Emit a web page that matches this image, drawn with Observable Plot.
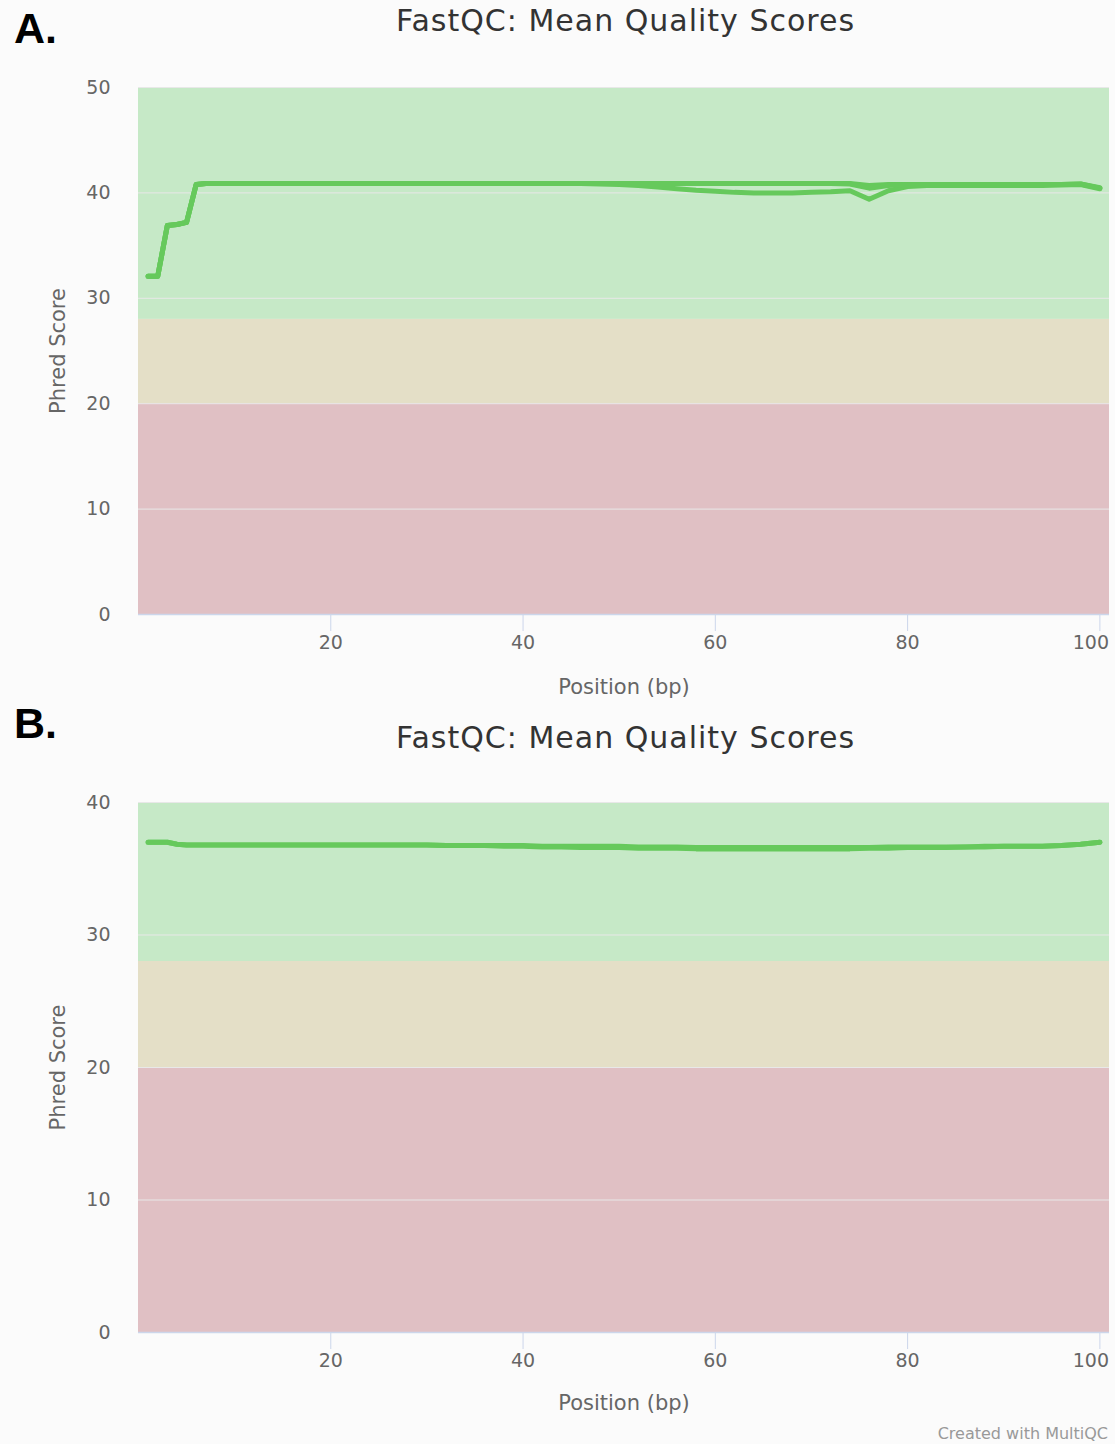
<!DOCTYPE html>
<html>
<head>
<meta charset="utf-8">
<script src="https://cdn.jsdelivr.net/npm/d3@7"></script>
<script src="https://cdn.jsdelivr.net/npm/@observablehq/plot@0.6"></script>
<style>
  html, body { margin: 0; padding: 0; background: #fbfbfb; }
  #page { position: relative; width: 1115px; height: 1444px; overflow: hidden; background: #fbfbfb; font-family: "DejaVu Sans", sans-serif; }
  .panel { position: absolute; left: 14px; font-family: "Liberation Sans", Arial, sans-serif; font-weight: bold; font-size: 43px; line-height: 43px; color: #000; }
  .title { position: absolute; left: 140px; width: 971px; text-align: center; font-size: 30px; line-height: 30px; letter-spacing: 1px; color: #333; white-space: nowrap; }
  .credit { position: absolute; right: 7px; font-size: 16px; line-height: 16px; color: #999; }
  #page svg { position: absolute; left: 0; }
  #page svg g[aria-label="x-axis label"], #page svg g[aria-label="y-axis label"] { font-size: 21px !important; }
</style>
</head>
<body>
<div id="page">
  <div class="panel" style="top:7px">A.</div>
  <div class="title" style="top:6px">FastQC: Mean Quality Scores</div>
  <div class="panel" style="top:702px">B.</div>
  <div class="title" style="top:723px">FastQC: Mean Quality Scores</div>
  <div class="credit" style="top:1426px">Created with MultiQC</div>
</div>
<script>
// ---- data ----
const positions = [1,2,3,4,5,6,7,8,9,10,12,14,16,18,20,22,24,26,28,30,32,34,36,38,40,42,44,46,48,50,52,54,56,58,60,62,64,66,68,70,72,74,76,78,80,82,84,86,88,90,92,94,96,98,100];

const sampleA1 = [32.1,32.1,36.9,37.0,37.2,40.8,40.9,40.9,40.9,40.9,40.9,40.9,40.9,40.9,40.9,40.9,40.9,40.9,40.9,40.9,40.9,40.9,40.9,40.9,40.9,40.9,40.9,40.9,40.9,40.9,40.9,40.9,40.9,40.9,40.9,40.9,40.9,40.9,40.9,40.9,40.9,40.9,40.7,40.8,40.8,40.8,40.8,40.8,40.8,40.8,40.8,40.8,40.8,40.85,40.45];
const sampleA2 = [32.1,32.1,36.9,37.0,37.2,40.8,40.9,40.9,40.9,40.9,40.9,40.9,40.9,40.9,40.9,40.9,40.9,40.9,40.9,40.9,40.9,40.9,40.9,40.9,40.9,40.9,40.9,40.9,40.85,40.8,40.7,40.55,40.4,40.25,40.15,40.05,40.0,40.0,40.0,40.05,40.1,40.2,39.4,40.2,40.6,40.7,40.7,40.7,40.7,40.7,40.7,40.7,40.75,40.8,40.4];
const sampleA3 = [32.1,32.1,36.9,37.0,37.2,40.8,40.9,40.9,40.9,40.9,40.9,40.9,40.9,40.9,40.9,40.9,40.9,40.9,40.9,40.9,40.9,40.9,40.9,40.9,40.9,40.9,40.9,40.9,40.9,40.9,40.9,40.9,40.9,40.9,40.9,40.9,40.9,40.9,40.9,40.9,40.9,40.85,40.45,40.7,40.8,40.8,40.8,40.8,40.8,40.8,40.8,40.8,40.8,40.85,40.5];

const sampleB1 = [37.0,37.0,37.0,36.85,36.8,36.8,36.8,36.8,36.8,36.8,36.8,36.8,36.8,36.8,36.8,36.8,36.8,36.8,36.8,36.8,36.75,36.75,36.75,36.75,36.75,36.7,36.7,36.7,36.7,36.7,36.65,36.65,36.65,36.6,36.6,36.6,36.6,36.6,36.6,36.6,36.6,36.6,36.6,36.65,36.65,36.65,36.65,36.65,36.7,36.7,36.7,36.7,36.75,36.85,37.0];
const sampleB2 = [37.0,37.0,37.0,36.85,36.8,36.8,36.8,36.8,36.8,36.8,36.8,36.8,36.8,36.8,36.8,36.8,36.8,36.8,36.8,36.8,36.75,36.75,36.75,36.7,36.7,36.65,36.65,36.6,36.6,36.6,36.55,36.55,36.55,36.5,36.5,36.5,36.5,36.5,36.5,36.5,36.5,36.5,36.55,36.55,36.6,36.6,36.6,36.65,36.65,36.7,36.7,36.7,36.75,36.85,37.0];

const xTicks = [20, 40, 60, 80, 100];
const yTicksA = [0, 10, 20, 30, 40, 50];
const yTicksB = [0, 10, 20, 30, 40];
const bandNames = ["fail", "warn", "pass"];
const bandLow = [0, 20, 28];
const bandHighA = [20, 28, 50];
const bandHighB = [20, 28, 40];

// ---- build tables ----
function toRows(samples) {
  const rows = [];
  for (const [name, vals] of samples) {
    positions.forEach((p, i) => rows.push({sample: name, pos: p, q: vals[i]}));
  }
  return rows;
}
const rowsA = toRows([["A1", sampleA1], ["A2", sampleA2], ["A3", sampleA3]]);
const rowsB = toRows([["B1", sampleB1], ["B2", sampleB2]]);
const bandsA = bandNames.map((n, i) => ({band: n, lo: bandLow[i], hi: bandHighA[i]}));
const bandsB = bandNames.map((n, i) => ({band: n, lo: bandLow[i], hi: bandHighB[i]}));

function chart({rows, bands, yMax, yTicks, height, marginTop, marginBottom, strokeWidth, labelOffsetX}) {
  const lastTick = xTicks[xTicks.length - 1];
  return Plot.plot({
    width: 1115,
    height,
    marginLeft: 138,
    marginRight: 6,
    marginTop,
    marginBottom,
    style: {background: "transparent", fontFamily: "DejaVu Sans, sans-serif", fontSize: "19px", color: "#666", overflow: "visible"},
    x: {domain: [0, 101]},
    y: {domain: [0, yMax]},
    color: {domain: bandNames, range: ["#e0c0c4", "#e4dfc7", "#c6e9c7"]},
    marks: [
      Plot.rectY(bands, {y1: "lo", y2: "hi", fill: "band"}),
      Plot.gridY({ticks: yTicks.filter(t => t > 0), stroke: "#e8e8e8", strokeOpacity: 1}),
      Plot.ruleY([0], {stroke: "#ccd6eb", strokeWidth: 1.5}),
      Plot.axisX({ticks: xTicks, tickSize: 17, stroke: "#ccd6eb", text: null, label: null}),
      Plot.axisX({ticks: xTicks.filter(t => t !== lastTick), tickSize: 0, tickPadding: 21, fill: "#666",
        label: "Position (bp)", labelAnchor: "center", labelOffset: labelOffsetX, labelArrow: "none"}),
      Plot.axisX({ticks: [lastTick], tickSize: 0, tickPadding: 21, fill: "#666", dx: -9, label: null}),
      Plot.axisY({ticks: yTicks, tickSize: 0, tickPadding: 28, fill: "#666",
        label: "Phred Score", labelAnchor: "center", labelOffset: 88, labelArrow: "none"}),
      Plot.line(rows, {x: "pos", y: "q", z: "sample", stroke: "#66c95c", strokeWidth, strokeLinejoin: "round", strokeLinecap: "round"})
    ]
  });
}

const page = document.getElementById("page");
const svgA = chart({rows: rowsA, bands: bandsA, yMax: 50, yTicks: yTicksA, height: 670, marginTop: 47, marginBottom: 96, strokeWidth: 5, labelOffsetX: 79});
svgA.style.top = "40px";
page.appendChild(svgA);
const svgB = chart({rows: rowsB, bands: bandsB, yMax: 40, yTicks: yTicksB, height: 670, marginTop: 42, marginBottom: 98, strokeWidth: 5, labelOffsetX: 77});
svgB.style.top = "760px";
page.appendChild(svgB);
</script>
</body>
</html>
